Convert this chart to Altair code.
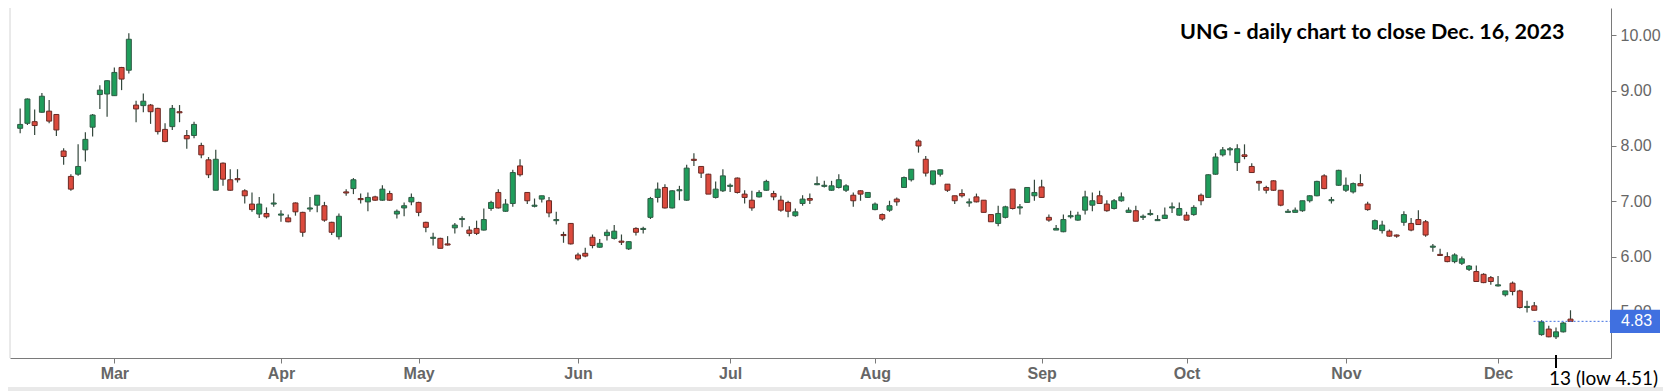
import altair as alt
import pandas as pd

# Daily candles, Feb 9 2023 .. Dec 15 2023 (trading-day index 1..215)
opens = [8.32,8.41,8.44,8.61,8.63,8.57,7.91,7.45,7.49,7.93,8.34,8.93,8.94,8.91,9.42,9.37,8.74,8.73,8.74,8.68,
         8.30,8.35,8.62,8.19,8.19,8.01,7.75,7.20,7.69,7.39,7.41,7.19,6.95,6.77,6.78,6.95,6.75,6.70,6.97,6.80,
         6.86,6.93,6.92,6.62,6.36,7.17,7.23,7.05,6.99,7.08,7.02,7.14,6.77,6.88,6.99,6.98,6.62,6.33,6.33,6.23,
         6.52,6.67,6.48,6.51,6.48,6.87,7.16,6.82,6.96,7.64,7.16,6.91,7.04,7.01,6.65,6.40,6.60,6.03,6.06,6.35,
         6.17,6.38,6.33,6.28,6.14,6.51,6.49,6.71,7.07,7.25,6.88,7.19,7.02,7.76,7.63,7.49,7.07,7.19,7.27,7.42,
         7.13,7.02,7.08,7.20,7.14,7.02,6.98,6.74,6.96,7.05,7.30,7.27,7.20,7.25,7.20,7.11,7.19,7.07,6.85,6.76,
         6.84,7.04,7.25,7.39,8.09,7.76,7.31,7.49,7.31,7.10,7.14,6.97,7.08,7.02,6.76,6.60,6.71,7.22,6.88,6.98,
         7.10,7.26,6.71,6.48,6.45,6.72,6.66,6.84,6.93,7.10,6.95,6.87,7.01,6.80,6.83,6.71,6.76,6.65,6.69,6.88,
         6.75,6.75,6.76,7.11,7.07,7.49,7.84,7.93,7.70,7.84,7.63,7.36,7.25,7.37,7.20,6.80,6.80,6.83,7.01,7.10,
         7.46,7.01,7.29,7.20,7.17,7.32,6.95,6.50,6.47,6.46,6.39,6.62,6.60,6.67,6.63,6.17,6.04,6.00,5.91,5.88,
         5.77,5.73,5.68,5.62,5.47,5.31,5.52,5.38,5.08,5.11,4.59,4.69,4.55,4.64,4.87]
highs = [8.68,8.86,8.66,8.96,8.83,8.58,7.96,7.49,8.03,8.25,8.58,9.10,9.19,9.42,9.43,10.04,8.82,8.95,8.76,8.69,
         8.41,8.74,8.74,8.29,8.44,8.06,7.80,7.93,7.70,7.58,7.58,7.22,7.16,7.08,6.89,7.14,6.84,6.76,6.98,6.81,
         7.08,7.11,6.99,6.63,6.78,7.22,7.42,7.14,7.16,7.10,7.29,7.19,6.85,6.98,7.14,6.99,6.63,6.43,6.34,6.37,
         6.61,6.73,6.55,6.65,6.87,7.01,7.22,7.04,7.57,7.76,7.17,7.05,7.10,7.08,6.81,6.45,6.61,6.07,6.16,6.40,
         6.32,6.49,6.57,6.40,6.28,6.53,6.54,7.08,7.34,7.31,7.20,7.28,7.66,7.87,7.64,7.50,7.36,7.58,7.32,7.43,
         7.20,7.19,7.20,7.39,7.19,7.10,7.01,6.87,7.11,7.14,7.45,7.37,7.37,7.49,7.31,7.16,7.20,7.16,6.98,6.78,
         7.01,7.07,7.45,7.58,8.12,7.82,7.55,7.57,7.31,7.10,7.22,7.05,7.14,7.02,6.76,6.92,6.92,7.22,6.95,7.25,
         7.39,7.39,6.76,6.57,6.76,6.83,6.81,7.19,7.16,7.19,7.02,7.04,7.16,6.89,6.92,6.76,6.85,6.75,6.89,6.98,
         6.98,6.81,6.93,7.14,7.49,7.87,7.98,7.98,8.03,8.03,7.69,7.37,7.28,7.38,7.20,6.86,6.89,7.01,7.11,7.37,
         7.49,7.08,7.57,7.43,7.34,7.49,6.99,6.67,6.65,6.49,6.40,6.82,6.70,6.84,6.66,6.23,6.14,6.08,6.06,6.00,
         5.85,5.84,5.70,5.65,5.65,5.38,5.55,5.40,5.20,5.18,4.85,4.75,4.72,4.82,5.03]
lows = [8.23,8.38,8.20,8.60,8.41,8.18,7.66,7.19,7.46,7.72,8.17,8.67,8.53,8.91,9.01,9.31,8.43,8.61,8.40,8.21,
        8.07,8.29,8.43,7.95,8.14,7.78,7.42,7.20,7.28,7.19,7.34,6.96,6.81,6.70,6.69,6.90,6.63,6.62,6.74,6.36,
        6.81,6.80,6.63,6.39,6.31,7.10,7.13,6.96,6.82,7.01,7.01,7.01,6.69,6.73,6.93,6.73,6.44,6.20,6.15,6.20,
        6.42,6.53,6.37,6.39,6.47,6.83,6.87,6.81,6.90,7.45,6.95,6.89,6.98,6.71,6.58,6.25,6.22,5.93,5.99,6.15,
        6.16,6.29,6.31,6.21,6.12,6.38,6.42,6.68,6.98,6.87,6.87,7.02,7.01,7.64,7.42,7.13,7.05,7.17,7.17,7.14,
        6.96,6.83,7.07,7.19,7.02,6.81,6.71,6.72,6.92,6.95,7.29,7.25,7.19,7.23,7.17,6.90,7.01,7.06,6.84,6.65,
        6.81,6.92,7.25,7.36,7.88,7.45,7.29,7.45,7.17,6.95,7.07,6.90,6.98,6.80,6.63,6.55,6.69,6.85,6.76,6.98,
        7.01,7.07,6.63,6.48,6.44,6.69,6.65,6.76,6.82,6.95,6.81,6.85,6.99,6.80,6.64,6.66,6.74,6.65,6.68,6.79,
        6.74,6.65,6.74,6.93,7.07,7.48,7.81,7.83,7.55,7.76,7.52,7.19,7.14,7.19,6.91,6.80,6.80,6.81,6.98,7.09,
        7.22,6.96,7.28,7.17,7.14,7.28,6.83,6.48,6.42,6.36,6.34,6.56,6.46,6.57,6.36,6.09,6.01,5.90,5.88,5.85,
        5.74,5.55,5.52,5.49,5.46,5.28,5.30,5.06,4.99,5.03,4.57,4.54,4.51,4.63,4.83]
closes = [8.39,8.85,8.37,8.90,8.45,8.29,7.81,7.22,7.63,8.12,8.56,9.01,9.18,9.33,9.21,9.93,8.67,8.81,8.62,8.26,
          8.08,8.68,8.60,8.13,8.39,7.84,7.48,7.76,7.40,7.20,7.39,7.10,6.85,6.95,6.72,6.97,6.77,6.63,6.81,6.44,
          6.88,7.11,6.66,6.44,6.73,7.15,7.39,7.03,7.07,7.02,7.22,7.02,6.82,6.92,7.07,6.80,6.53,6.35,6.15,6.21,
          6.57,6.69,6.42,6.42,6.67,6.98,6.88,6.95,7.52,7.48,7.01,6.93,7.10,6.79,6.67,6.38,6.23,5.96,6.01,6.20,
          6.24,6.44,6.46,6.26,6.27,6.44,6.51,7.05,7.22,6.88,7.19,7.21,7.60,7.74,7.51,7.13,7.22,7.46,7.29,7.16,
          7.07,6.88,7.16,7.36,7.08,6.84,6.82,6.81,7.04,7.02,7.32,7.29,7.28,7.39,7.28,7.01,7.13,7.16,6.95,6.68,
          6.92,6.99,7.43,7.58,8.00,7.51,7.55,7.57,7.20,7.01,7.10,6.99,6.99,6.80,6.63,6.78,6.90,6.87,6.90,7.25,
          7.16,7.07,6.66,6.51,6.67,6.74,6.75,7.08,7.01,6.96,6.83,7.01,7.08,6.84,6.64,6.73,6.78,6.67,6.75,6.90,
          6.87,6.66,6.89,7.01,7.48,7.80,7.93,7.95,7.95,7.81,7.52,7.33,7.20,7.20,6.93,6.82,6.84,7.01,7.10,7.36,
          7.23,7.03,7.56,7.29,7.32,7.28,6.85,6.65,6.57,6.37,6.37,6.76,6.48,6.58,6.39,6.19,6.02,5.91,6.03,5.96,
          5.83,5.55,5.53,5.55,5.49,5.38,5.37,5.08,5.10,5.03,4.82,4.55,4.64,4.80,4.83]

month_idx = [14, 37, 56, 78, 99, 119, 142, 162, 184, 205]
month_names = ["Mar", "Apr", "May", "Jun", "Jul", "Aug", "Sep", "Oct", "Nov", "Dec"]
y_ticks = [5, 6, 7, 8, 9, 10]

title_text = "UNG - daily chart to close Dec. 16, 2023"
low_day_idx = 213
low_note = "13 (low 4.51)"
last_close = 4.83

W, H = 1601, 350
GREEN, RED = "#1f9d5b", "#dc4a3d"
GREEN_STROKE, RED_STROKE = "#2f5a44", "#6a2a24"
WICK = "#34473c"
BLUE = "#4070e0"

df = pd.DataFrame({
    "i": list(range(1, len(opens) + 1)),
    "open": opens, "high": highs, "low": lows, "close": closes,
})
df["dir"] = ["up" if c >= o else "down" for o, c in zip(opens, closes)]

xs = alt.Scale(domain=[0.287, 219.9], nice=False, zero=False)
ys = alt.Scale(domain=[4.167, 10.495], nice=False, zero=False)

names_arr = "[" + ",".join("'%s'" % m for m in month_names) + "]"
idx_arr = "[" + ",".join(str(v) for v in month_idx) + "]"

x_axis = alt.Axis(values=month_idx, labelExpr=f"{names_arr}[indexof({idx_arr}, datum.value)]",
                  title=None, grid=False, domainColor="#7a7a7a", tickColor="#7a7a7a", tickSize=5,
                  labelFont="Liberation Sans", labelFontWeight="bold", labelFontSize=16,
                  labelColor="#666666", labelPadding=2)
y_axis = alt.Axis(orient="right", values=y_ticks, format=".2f", title=None, grid=False,
                  domainColor="#7a7a7a", tickColor="#7a7a7a", tickSize=5,
                  labelFont="Liberation Sans", labelFontSize=16, labelColor="#666666", labelPadding=4)

base = alt.Chart(df)

wicks = base.mark_rule(color=WICK, strokeWidth=1.2).encode(
    x=alt.X("i:Q", scale=xs, axis=x_axis),
    y=alt.Y("low:Q", scale=ys, axis=y_axis),
    y2="high:Q",
)
bodies = base.mark_bar(width=5, strokeWidth=1).encode(
    x=alt.X("i:Q"),
    y=alt.Y("open:Q"),
    y2="close:Q",
    color=alt.Color("dir:N", scale=alt.Scale(domain=["up", "down"], range=[GREEN, RED]), legend=None),
    stroke=alt.Stroke("dir:N", scale=alt.Scale(domain=["up", "down"], range=[GREEN_STROKE, RED_STROKE]), legend=None),
)

one = df.head(1)

left_border = alt.Chart(one).mark_rule(color="#d4d4d4").encode(
    x=alt.value(0), y=alt.value(0), y2=alt.value(H))

bottom_band = alt.Chart(one).mark_rect(color="#e9e9e9").encode(
    x=alt.value(-2), x2=alt.value(W + 52), y=alt.value(H + 29), y2=alt.value(H + 33))

last_line = alt.Chart(one).mark_rule(color=BLUE, strokeDash=[2, 2], strokeWidth=1).encode(
    x=alt.datum(209.9), x2=alt.value(W), y=alt.datum(last_close))

box = alt.Chart(one).mark_rect(color=BLUE).encode(
    x=alt.value(W - 1), x2=alt.value(W + 49),
    y=alt.datum(last_close + 0.21), y2=alt.datum(last_close - 0.21))
box_text = alt.Chart(one).mark_text(color="white", font="Liberation Sans", fontSize=16,
                                    align="left", baseline="middle").encode(
    x=alt.value(W + 10), y=alt.datum(last_close), text=alt.value(f"{last_close:.2f}"))

low_tick = alt.Chart(one).mark_rule(color="black", strokeWidth=2).encode(
    x=alt.datum(low_day_idx), y=alt.value(H - 3), y2=alt.value(H + 10))
low_text = alt.Chart(one).mark_text(color="black", font="Lato", fontSize=19,
                                    align="left", baseline="alphabetic", dx=-7).encode(
    x=alt.datum(low_day_idx), y=alt.value(H + 27), text=alt.value(low_note))

title = alt.Chart(one).mark_text(color="black", font="Lato", fontSize=21.5,
                                 fontWeight="bold", align="left", baseline="alphabetic").encode(
    x=alt.value(1170), y=alt.value(31), text=alt.value(title_text))

chart = alt.layer(wicks, bodies, left_border, bottom_band, last_line, box, box_text,
                  low_tick, low_text, title).properties(
    width=W, height=H,
    autosize=alt.AutoSizeParams(type="none"),
    padding={"left": 2, "top": 0, "right": 52, "bottom": 33},
    background="white",
).configure_view(stroke=None)

chart.save("out.html", embed_options={"renderer": "svg", "actions": False})
